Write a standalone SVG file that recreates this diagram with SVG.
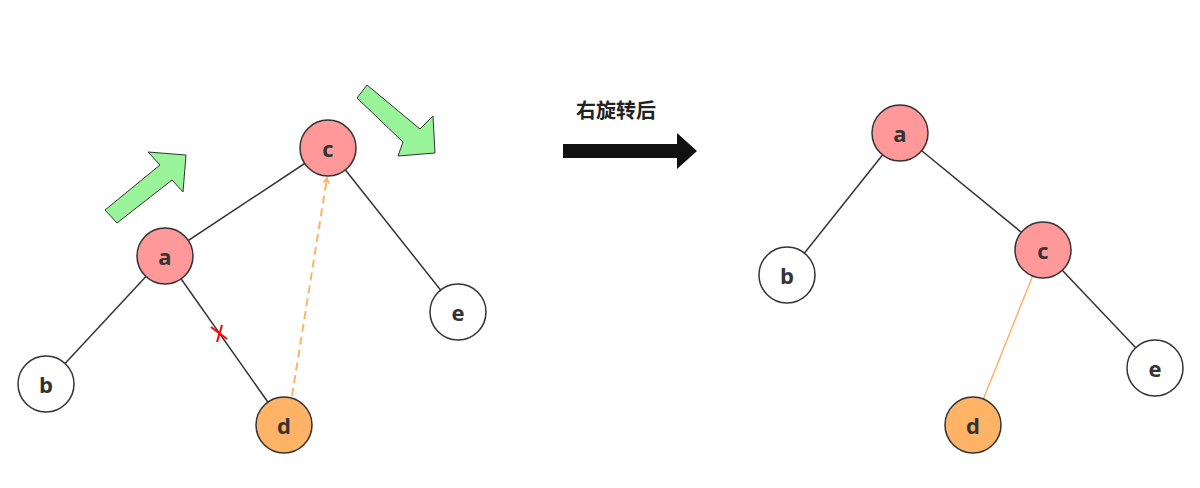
<svg xmlns="http://www.w3.org/2000/svg" width="1200" height="488" viewBox="0 0 1200 488">
<style>
.n circle{stroke:#333;stroke-width:1.5}
.n text{font-family:"Open Sans","Liberation Sans",sans-serif;font-weight:bold;font-size:22px;fill:#333;text-anchor:middle;dominant-baseline:central}
.red{fill:#F99}.or{fill:#FFB366}.wh{fill:#fff}
.e line{stroke:#333;stroke-width:1.5}
.g{fill:#99F399;stroke:#333;stroke-width:1}
</style>
<defs><marker id="ah" markerWidth="8" markerHeight="8" refX="6" refY="4" orient="auto" markerUnits="userSpaceOnUse"><path d="M0,0 L8,4 L0,8 L2,4 Z" fill="#FFB366"/></marker></defs>
<g id="connectors" class="e">
<line x1="165" y1="256" x2="328" y2="148"/>
<line x1="165" y1="256" x2="46" y2="384"/>
<line x1="165" y1="256" x2="284" y2="425"/>
<line x1="328" y1="148" x2="458" y2="312"/>
<line x1="292" y1="396" x2="327" y2="178" style="stroke:#FFB366;stroke-width:2;stroke-dasharray:8,5" marker-end="url(#ah)"/>
<line x1="900" y1="133" x2="787" y2="275"/>
<line x1="900" y1="133" x2="1043" y2="250"/>
<line x1="1043" y1="250" x2="1155" y2="368"/>
<line x1="1043" y1="250" x2="973" y2="425" style="stroke:#FFB366"/>
</g>
<g id="marks">
<path d="M211,327 L227,339 M222,325 L217,342" stroke="#f00" stroke-width="2" fill="none"/>
<polygon class="g" points="105,210 160,165 148,152 186,155 183,192 172,180 117,223"/>
<polygon class="g" points="367,85 420,129 433,116 435,153 398,156 403,142 357,98"/>
<polygon points="563,144 677,144 677,133 697,151 677,169 677,158 563,158" fill="#111"/>
<text x="616" y="118" font-family="'Noto Sans CJK SC',sans-serif" font-weight="bold" font-size="20" fill="#222" text-anchor="middle">右旋转后</text>
</g>
<g id="L_c" class="n"><circle class="red" cx="328" cy="148" r="28"/><text x="328" y="148">c</text></g>
<g id="L_a" class="n"><circle class="red" cx="165" cy="256" r="28"/><text x="165" y="256">a</text></g>
<g id="L_b" class="n"><circle class="wh" cx="46" cy="384" r="28"/><text x="46" y="384">b</text></g>
<g id="L_d" class="n"><circle class="or" cx="284" cy="425" r="28"/><text x="284" y="425">d</text></g>
<g id="L_e" class="n"><circle class="wh" cx="458" cy="312" r="28"/><text x="458" y="312">e</text></g>
<g id="R_a" class="n"><circle class="red" cx="900" cy="133" r="28"/><text x="900" y="133">a</text></g>
<g id="R_b" class="n"><circle class="wh" cx="787" cy="275" r="28"/><text x="787" y="275">b</text></g>
<g id="R_c" class="n"><circle class="red" cx="1043" cy="250" r="28"/><text x="1043" y="250">c</text></g>
<g id="R_d" class="n"><circle class="or" cx="973" cy="425" r="28"/><text x="973" y="425">d</text></g>
<g id="R_e" class="n"><circle class="wh" cx="1155" cy="368" r="28"/><text x="1155" y="368">e</text></g>
</svg>
